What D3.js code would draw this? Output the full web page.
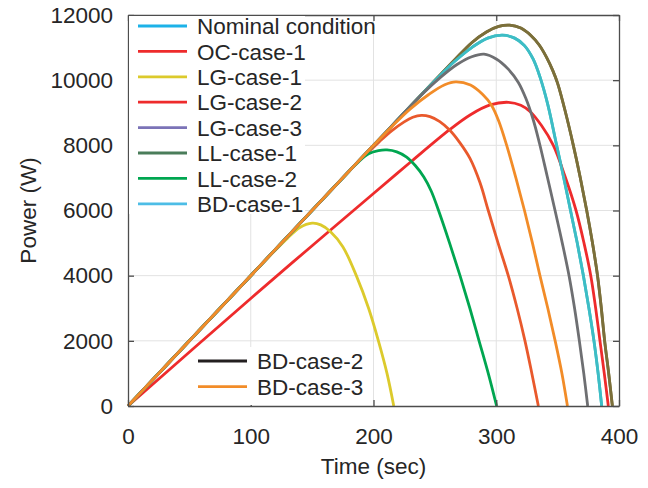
<!DOCTYPE html>
<html lang="en">
<head>
<meta charset="utf-8">
<script src="https://d3js.org/d3.v7.min.js"></script>
<style>
  body { margin: 0; background: #fff; }
  svg text { font-family: "Liberation Sans", Arial, sans-serif; fill: #262626; }
</style>
</head>
<body>
<script>
// series: [time (sec), power (W)]
const nominal = [[0,0],[100,4000],[200,8000],[250,9980],[265,10540],[280,11000],[293,11290],[305,11380],[315,11290],[323,11060],[330,10650],[335.6,10100],[342,9250],[349.2,8000],[355,7000],[360.5,6000],[366,5000],[371,4000],[375.5,3000],[379.6,2000],[383,1000],[385.9,0]];
const ocCase1 = [[0,0],[100,3300],[150,4920],[200,6520],[230,7480],[262,8480],[279,8940],[295,9240],[310,9320],[320,9230],[327.5,9040],[337,8600],[346.5,8000],[356,7050],[365,6000],[371.5,5000],[377,4000],[381,3000],[384.5,2000],[388,1000],[391.3,0]];
const lgCase1 = [[0,0],[100,4000],[120,4780],[130,5150],[140,5480],[150,5610],[157,5560],[165,5350],[175,4890],[186,4000],[196,3000],[204,2000],[211,1000],[216.5,0]];
const lgCase2 = [[0,0],[100,4000],[185,7400],[195,7760],[205,8120],[215,8450],[225,8720],[232,8860],[239,8920],[246,8880],[254,8730],[262,8470],[270,8100],[278.6,7600],[286.8,6850],[293.5,6000],[301.5,5000],[309.8,4000],[317,3000],[323.4,2000],[329,1000],[334.3,0]];
const lgCase3 = [[0,0],[100,4000],[200,8000],[265,10580],[280,11150],[292,11480],[302,11650],[311,11690],[320,11600],[328,11380],[335,11080],[341,10700],[346,10300],[350,9900],[356.5,9000],[362.8,8000],[368.5,7000],[373.7,6000],[378.4,5000],[382.5,4000],[385.6,3000],[388.3,2000],[391.6,1000],[394.6,0]];
const llCase1 = lgCase3;
const llCase2 = [[0,0],[100,4000],[180,7200],[188,7500],[196,7740],[204,7840],[211,7860],[219,7800],[227,7640],[234,7380],[241,7030],[247,6600],[253,6000],[262,5000],[270.5,4000],[278.5,3000],[286,2000],[293.5,1000],[300.3,0]];
const bdCase1 = nominal;
const bdCase2 = [[0,0],[100,4000],[200,8000],[240,9580],[255,10100],[268,10480],[280,10720],[290,10800],[300,10650],[310,10330],[318,9930],[324,9450],[330,8800],[335.1,8080],[341.5,7050],[347.9,6000],[353.8,5000],[359.3,4000],[363.8,3000],[367.7,2000],[371.3,1000],[374.5,0]];
const bdCase3 = [[0,0],[100,4000],[200,8000],[215,8580],[230,9120],[245,9560],[258,9860],[267,9950],[279,9850],[289,9560],[296,9240],[302,8750],[308.5,8000],[316,7000],[323,6000],[329.5,5000],[335.6,4000],[342,3000],[348,2000],[353.5,1000],[358,0]];

const names = ["Nominal condition","OC-case-1","LG-case-1","LG-case-2","LG-case-3","LL-case-1","LL-case-2","BD-case-1","BD-case-2","BD-case-3"];
const seriesData = [nominal, ocCase1, lgCase1, lgCase2, lgCase3, llCase1, llCase2, bdCase1, bdCase2, bdCase3];
const lineColors = ["#3dbdc5","#ee2b2c","#dcca2c","#e9592c","#7b6f3a","#7b6f3a","#00a650","#3dbdc5","#6e6f72","#f28c28"];
const legendColors = ["#1cb2e8","#ee2b2c","#dcca2c","#ee2b2c","#7b73b7","#4a7d5a","#00a650","#4dbde6","#231f20","#f28c28"];

const xTicks = [0, 100, 200, 300, 400];
const yTicks = [0, 2000, 4000, 6000, 8000, 10000, 12000];

// layout
const W = 648, H = 488;
const mLeft = 128, mTop = 15, mRight = 619, mBottom = 406;
const fontSize = 22.5;

const svg = d3.select("body").append("svg")
  .attr("width", W).attr("height", H);

const x = d3.scaleLinear().domain([0, 400]).range([mLeft, mRight]);
const y = d3.scaleLinear().domain([0, 12000]).range([mBottom, mTop]);

// grid
svg.append("g").selectAll("line").data(xTicks.slice(1, -1)).join("line")
  .attr("x1", d => x(d)).attr("x2", d => x(d))
  .attr("y1", mTop).attr("y2", mBottom)
  .attr("stroke", "#e2e2e2").attr("stroke-width", 1);
svg.append("g").selectAll("line").data(yTicks.slice(1, -1)).join("line")
  .attr("y1", d => y(d)).attr("y2", d => y(d))
  .attr("x1", mLeft).attr("x2", mRight)
  .attr("stroke", "#e2e2e2").attr("stroke-width", 1);

// curves
const line = d3.line().x(d => x(d[0])).y(d => y(d[1])).curve(d3.curveCatmullRom.alpha(0.5));
svg.append("g").selectAll("path").data(seriesData).join("path")
  .attr("d", d => line(d))
  .attr("fill", "none")
  .attr("stroke", (d, i) => lineColors[i])
  .attr("stroke-width", 2.8)
  .attr("stroke-linejoin", "round");

// axes (box with inward ticks)
function styleAxis(g) {
  g.select(".domain").attr("stroke", "#4d4d4d").attr("stroke-width", 1.3);
  g.selectAll(".tick line").attr("stroke", "#4d4d4d").attr("stroke-width", 1.3);
  g.selectAll("text").attr("font-size", fontSize).attr("fill", "#262626")
    .attr("font-family", "'Liberation Sans', Arial, sans-serif");
}
svg.append("g").attr("transform", `translate(0,${mBottom})`)
  .call(d3.axisBottom(x).tickValues(xTicks).tickSizeInner(-6).tickSizeOuter(0).tickPadding(22))
  .call(styleAxis);
svg.append("g").attr("transform", `translate(0,${mTop})`)
  .call(d3.axisTop(x).tickValues(xTicks).tickSizeInner(-6).tickSizeOuter(0).tickFormat(""))
  .call(styleAxis);
svg.append("g").attr("transform", `translate(${mLeft},0)`)
  .call(d3.axisLeft(y).tickValues(yTicks).tickFormat(d3.format("d")).tickSizeInner(-6).tickSizeOuter(0).tickPadding(15))
  .call(styleAxis);
svg.append("g").attr("transform", `translate(${mRight},0)`)
  .call(d3.axisRight(y).tickValues(yTicks).tickSizeInner(-6).tickSizeOuter(0).tickFormat(""))
  .call(styleAxis);

// axis titles
svg.append("text")
  .attr("x", (mLeft + mRight) / 2).attr("y", 474)
  .attr("text-anchor", "middle").attr("font-size", fontSize)
  .text("Time (sec)");
svg.append("text")
  .attr("transform", `translate(36,${(mTop + mBottom) / 2}) rotate(-90)`)
  .attr("text-anchor", "middle").attr("font-size", fontSize)
  .text("Power (W)");

// legend 1 (first 8 entries)
const leg1 = svg.append("g");
leg1.append("rect").attr("x", mLeft + 1).attr("y", mTop + 1)
  .attr("width", 176).attr("height", 198).attr("fill", "#fff");
const rows1 = leg1.selectAll("g").data(d3.range(8)).join("g")
  .attr("transform", i => `translate(0,${26 + i * 25.4})`);
rows1.append("line").attr("x1", 138).attr("x2", 187)
  .attr("stroke", i => legendColors[i]).attr("stroke-width", 2.8);
rows1.append("text").attr("x", 197).attr("dy", "0.36em")
  .attr("font-size", fontSize).text(i => names[i]);

// legend 2 (last 2 entries)
const leg2 = svg.append("g");
leg2.append("rect").attr("x", 200).attr("y", 347)
  .attr("width", 168).attr("height", 58).attr("fill", "#fff");
const rows2 = leg2.selectAll("g").data([8, 9]).join("g")
  .attr("transform", (i, k) => `translate(0,${361 + k * 25.7})`);
rows2.append("line").attr("x1", 198).attr("x2", 247)
  .attr("stroke", i => legendColors[i]).attr("stroke-width", 2.8);
rows2.append("text").attr("x", 257).attr("dy", "0.36em")
  .attr("font-size", fontSize).text(i => names[i]);
</script>
</body>
</html>
